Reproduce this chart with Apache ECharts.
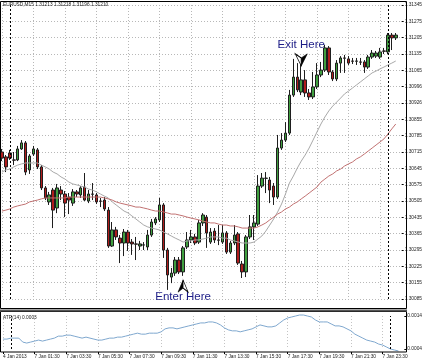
<!DOCTYPE html>
<html><head><meta charset="utf-8">
<script src="https://cdn.jsdelivr.net/npm/echarts@6/dist/echarts.min.js"></script>
<style>html,body{margin:0;padding:0;background:#fff}#c{width:425px;height:361px}</style>
</head><body><div id="c"></div>
<script>
// ---- data ----
const symbolTitle = 'EURUSD,M15 1.31213 1.31218 1.31196 1.31210';
const atrTitle = 'ATR(14) 0.0003';
const categories = ['4 Jan 23:30', '4 Jan 23:45'];
for (let h = 0; h < 24; h++) for (let m = 0; m < 60; m += 15)
  categories.push('7 Jan ' + String(h).padStart(2, '0') + ':' + String(m).padStart(2, '0'));
['00:00', '00:15', '00:30', '00:45'].forEach(t => categories.push('8 Jan ' + t));

// [open, close, low, high]
const candles = [
[1.30715,1.30689,1.30676,1.30728],[1.30694,1.30651,1.30629,1.30702],[1.30711,1.30689,1.30681,1.30724],
[1.30681,1.30680,1.30659,1.30715],[1.30681,1.30728,1.30676,1.30741],[1.30728,1.30754,1.30724,1.30766],
[1.30754,1.30629,1.30616,1.30762],[1.30638,1.30698,1.30621,1.30706],[1.30706,1.30728,1.30698,1.30741],
[1.30724,1.30651,1.30642,1.30732],[1.30651,1.30561,1.30552,1.30659],[1.30561,1.30518,1.30509,1.30569],
[1.30501,1.30531,1.30488,1.30544],[1.30552,1.30466,1.30389,1.30561],[1.30475,1.30561,1.30453,1.30578],
[1.30552,1.30535,1.30509,1.30569],[1.30535,1.30496,1.30436,1.30548],[1.30522,1.30509,1.30449,1.30539],
[1.30496,1.30544,1.30484,1.30556],[1.30544,1.30535,1.30522,1.30552],[1.30531,1.30561,1.30518,1.30569],
[1.30565,1.30509,1.30505,1.30625],[1.30505,1.30535,1.30496,1.30552],[1.30535,1.30534,1.30509,1.30582],
[1.30531,1.30501,1.30492,1.30539],[1.30505,1.30504,1.30479,1.30518],[1.30509,1.30471,1.30462,1.30522],
[1.30466,1.30312,1.30304,1.30479],[1.30312,1.30381,1.30308,1.30415],[1.30381,1.30351,1.30338,1.30394],
[1.30346,1.30325,1.30239,1.30359],[1.30325,1.30372,1.30269,1.30385],[1.30372,1.30325,1.30291,1.30381],
[1.30329,1.30321,1.30274,1.30342],[1.30321,1.30320,1.30252,1.30351],[1.30312,1.30321,1.30295,1.30334],
[1.30316,1.30317,1.30295,1.30329],[1.30308,1.30359,1.30295,1.30381],[1.30359,1.30415,1.30351,1.30428],
[1.30411,1.30428,1.30402,1.30436],[1.30424,1.30488,1.30415,1.30518],[1.30488,1.30295,1.30261,1.30496],
[1.30295,1.30188,1.30124,1.30304],[1.30179,1.30196,1.30153,1.30218],[1.30196,1.30252,1.30184,1.30265],
[1.30252,1.30201,1.30192,1.30265],[1.30201,1.30304,1.30184,1.30312],[1.30308,1.30338,1.30299,1.30372],
[1.30338,1.30351,1.30325,1.30381],[1.30351,1.30325,1.30316,1.30364],[1.30329,1.30411,1.30321,1.30424],
[1.30411,1.30445,1.30398,1.30453],[1.30436,1.30368,1.30304,1.30445],[1.30329,1.30372,1.30321,1.30389],
[1.30376,1.30338,1.30325,1.30389],[1.30338,1.30337,1.30316,1.30402],[1.30329,1.30368,1.30321,1.30402],
[1.30368,1.30286,1.30278,1.30376],[1.30286,1.30325,1.30278,1.30334],[1.30325,1.30359,1.30316,1.30402],
[1.30364,1.30239,1.30231,1.30372],[1.30235,1.30201,1.30175,1.30248],[1.30201,1.30351,1.30179,1.30359],
[1.30351,1.30394,1.30342,1.30445],[1.30394,1.30411,1.30338,1.30445],[1.30406,1.30569,1.30398,1.30616],
[1.30569,1.30603,1.30561,1.30625],[1.30603,1.30602,1.30539,1.30629],[1.30595,1.30552,1.30496,1.30608],
[1.30569,1.30522,1.30488,1.30582],[1.30522,1.30732,1.30514,1.30788],[1.30732,1.30766,1.30724,1.30796],
[1.30766,1.30796,1.30758,1.30843],[1.30796,1.30959,1.30788,1.30981],[1.30959,1.31036,1.30951,1.31114],
[1.31036,1.30981,1.30972,1.31096],[1.30972,1.31024,1.30959,1.31122],[1.31024,1.30968,1.30951,1.31066],
[1.30968,1.30951,1.30938,1.30985],[1.30951,1.30994,1.30942,1.31058],[1.30994,1.31045,1.30985,1.31096],
[1.31045,1.31066,1.31036,1.31101],[1.31066,1.31161,1.31058,1.31174],[1.31161,1.31058,1.31045,1.31169],
[1.31058,1.31028,1.31019,1.31066],[1.31028,1.31096,1.31019,1.31109],[1.31096,1.31118,1.31054,1.31126],
[1.31118,1.31117,1.31054,1.31131],[1.31114,1.31096,1.31088,1.31126],[1.31105,1.31104,1.31092,1.31118],
[1.31104,1.31105,1.31088,1.31118],[1.31101,1.31100,1.31088,1.31118],[1.31101,1.31079,1.31054,1.31109],
[1.31079,1.31122,1.31071,1.31131],[1.31122,1.31139,1.31114,1.31152],[1.31126,1.31139,1.31118,1.31148],
[1.31122,1.31144,1.31114,1.31161],[1.31148,1.31147,1.31135,1.31161],[1.31144,1.31216,1.31135,1.31225],
[1.31216,1.31204,1.31152,1.31225],[1.31204,1.31216,1.31195,1.31225]
];

const maFast = [
1.30629,1.30638,1.30642,1.30651,1.30659,1.30664,1.30668,1.30668,1.30668,1.30668,
1.30659,1.30651,1.30642,1.30629,1.30621,1.30608,1.30599,1.30586,1.30578,1.30574,
1.30569,1.30565,1.30556,1.30552,1.30544,1.30535,1.30526,1.30518,1.30501,1.30488,
1.30475,1.30462,1.30454,1.30441,1.30428,1.30415,1.30402,1.30394,1.30389,1.30385,
1.30381,1.30372,1.30364,1.30355,1.30346,1.30338,1.30329,1.30334,1.30334,1.30338,
1.30338,1.30342,1.30346,1.30351,1.30351,1.30351,1.30346,1.30346,1.30338,1.30334,
1.30329,1.30325,1.30325,1.30325,1.30329,1.30342,1.30355,1.30376,1.30402,1.30428,
1.30458,1.30492,1.30535,1.30582,1.30612,1.30646,1.30676,1.30702,1.30732,1.30766,
1.30801,1.30835,1.30865,1.30891,1.30912,1.30929,1.30946,1.30964,1.30976,1.30989,
1.31002,1.31015,1.31028,1.31041,1.31054,1.31062,1.31071,1.31079,1.31088,1.31096,
1.31105
];
const maSlow = [
1.30462,1.30466,1.30471,1.30479,1.30484,1.30488,1.30492,1.30501,1.30505,1.30509,
1.30514,1.30518,1.30518,1.30518,1.30518,1.30518,1.30518,1.30522,1.30522,1.30522,
1.30522,1.30522,1.30522,1.30522,1.30522,1.30522,1.30518,1.30514,1.30509,1.30501,
1.30496,1.30492,1.30488,1.30484,1.30479,1.30479,1.30475,1.30471,1.30466,1.30462,
1.30462,1.30458,1.30454,1.30449,1.30449,1.30445,1.30441,1.30436,1.30432,1.30428,
1.30424,1.30419,1.30415,1.30411,1.30411,1.30406,1.30402,1.30402,1.30398,1.30398,
1.30394,1.30389,1.30389,1.30389,1.30389,1.30394,1.30402,1.30411,1.30424,1.30436,
1.30449,1.30458,1.30471,1.30479,1.30492,1.30501,1.30514,1.30526,1.30539,1.30552,
1.30565,1.30586,1.30599,1.30612,1.30621,1.30634,1.30642,1.30655,1.30664,1.30672,
1.30685,1.30694,1.30706,1.30719,1.30732,1.30745,1.30758,1.30771,1.30792,1.30814,
1.30835
];
const atr = [
0.00070,0.00070,0.00073,0.00073,0.00073,0.00061,0.00058,0.00061,0.00064,0.00067,
0.00064,0.00067,0.00070,0.00073,0.00079,0.00079,0.00082,0.00082,0.00079,0.00076,
0.00073,0.00076,0.00073,0.00070,0.00067,0.00067,0.00070,0.00073,0.00073,0.00076,
0.00076,0.00079,0.00082,0.00085,0.00088,0.00085,0.00085,0.00088,0.00088,0.00088,
0.00092,0.00101,0.00104,0.00104,0.00101,0.00104,0.00107,0.00110,0.00113,0.00116,
0.00119,0.00119,0.00122,0.00122,0.00119,0.00113,0.00104,0.00098,0.00095,0.00095,
0.00092,0.00095,0.00098,0.00101,0.00107,0.00113,0.00110,0.00107,0.00107,0.00110,
0.00119,0.00128,0.00134,0.00137,0.00140,0.00143,0.00143,0.00140,0.00137,0.00128,
0.00122,0.00122,0.00122,0.00116,0.00110,0.00110,0.00107,0.00101,0.00095,0.00085,
0.00079,0.00073,0.00067,0.00064,0.00061,0.00055,0.00052,0.00046,0.00040,0.00037,
0.00034
];
const priceTicks = ['1.30085','1.30155','1.30225','1.30295','1.30365','1.30435','1.30505','1.30575',
  '1.30645','1.30715','1.30785','1.30855','1.30926','1.30996','1.31065','1.31135','1.31205','1.31275','1.31345'];
const priceMin = 1.30085, priceMax = 1.31345, priceStep = 0.0007;
const timeTicks = ['4 Jan 2013','7 Jan 01:30','7 Jan 03:30','7 Jan 05:30','7 Jan 07:30','7 Jan 09:30',
  '7 Jan 11:30','7 Jan 13:30','7 Jan 15:30','7 Jan 17:30','7 Jan 19:30','7 Jan 21:30','7 Jan 23:30'];
const separators = ['7 Jan 00:00', '8 Jan 00:00'];
const enterPoint = {time: '7 Jan 11:00', arrow: 1.30166, text: 1.30094, label: 'Enter Here'};
const exitPoint = {time: '7 Jan 18:30', arrow: 1.31084, text: 1.31174, label: 'Exit Here'};

// ---- chart ----
const F = 'Liberation Sans, Arial, sans-serif';
const tiny = 4.8;
const chart = echarts.init(document.getElementById('c'), null, {renderer: 'canvas'});
const tickEvery = (i) => i % 8 === 0 && i <= 96;
const sepLine = {
  silent: true, symbol: 'none', animation: false,
  label: {show: false},
  lineStyle: {type: [2, 2], color: '#000', width: 1},
  data: separators.map(s => ({xAxis: s}))
};
const upL = 'path://M6 0 L6 8 L0 12 Z', upR = 'path://M6 0 L12 12 L6 8 Z';
const dnL = 'path://M0 0 L6 4 L6 12 Z', dnR = 'path://M6 4 L12 0 L6 12 Z';
const arrowStyleB = {color: '#000', borderColor: '#000', borderWidth: 0.6};
const arrowStyleW = {color: '#fff', borderColor: '#000', borderWidth: 0.8};
const textLabel = (t) => ({show: true, position: 'inside', formatter: t, color: '#1c1c86',
  fontSize: 11.5, fontFamily: F});

chart.setOption({
  animation: false,
  backgroundColor: '#fff',
  grid: [
    {left: -1, top: 5, width: 407, height: 294},
    {left: -1, top: 316, width: 407, height: 33}
  ],
  xAxis: [
    {type: 'category', gridIndex: 0, data: categories, boundaryGap: true,
     axisLine: {show: false}, axisTick: {show: false}, axisLabel: {show: false},
     splitLine: {show: true, interval: tickEvery, alignWithLabel: true,
       lineStyle: {type: [1, 2], color: '#b8b8b8', width: 1}}},
    {type: 'category', gridIndex: 1, data: categories, boundaryGap: true, offset: 3,
     axisLine: {show: false},
     axisTick: {show: true, interval: tickEvery, alignWithLabel: true, length: 2, lineStyle: {color: '#000'}},
     axisLabel: {show: true, interval: tickEvery, align: 'left', margin: 2, fontSize: tiny,
       fontFamily: F, color: '#222', formatter: (v, i) => timeTicks[i / 8] || ''},
     splitLine: {show: true, interval: tickEvery, alignWithLabel: true,
       lineStyle: {type: [1, 2], color: '#c4c4c4', width: 1}}}
  ],
  yAxis: [
    {type: 'value', gridIndex: 0, position: 'right', min: priceMin, max: priceMax, interval: priceStep,
     axisLine: {show: false}, axisTick: {show: true, length: 2, lineStyle: {color: '#000'}},
     axisLabel: {fontSize: tiny, fontFamily: F, color: '#222', margin: 3,
       formatter: (v) => priceTicks[Math.round((v - priceMin) / priceStep)] || ''},
     splitLine: {show: true, lineStyle: {type: [1, 2], color: '#b8b8b8', width: 1}}},
    {type: 'value', gridIndex: 1, position: 'right', min: 0.0004, max: 0.0014, interval: 0.001,
     axisLine: {show: false}, axisTick: {show: true, length: 2, lineStyle: {color: '#000'}},
     axisLabel: {fontSize: tiny, fontFamily: F, color: '#222', margin: 3, formatter: (v) => v.toFixed(4)},
     splitLine: {show: false}}
  ],
  series: [
    {type: 'candlestick', xAxisIndex: 0, yAxisIndex: 0, data: candles, barWidth: 3, z: 3,
     itemStyle: {color: '#3f9f3f', color0: '#b01c1c', borderColor: '#1e1e1e', borderColor0: '#1e1e1e', borderWidth: 1},
     markLine: sepLine,
     markPoint: {silent: true, animation: false, data: [
       {coord: [enterPoint.time, enterPoint.arrow], symbol: upL, symbolSize: [5, 12], symbolOffset: [-2.5, 6], itemStyle: arrowStyleB, label: {show: false}},
       {coord: [enterPoint.time, enterPoint.arrow], symbol: upR, symbolSize: [5, 12], symbolOffset: [2.5, 6], itemStyle: arrowStyleW, label: {show: false}},
       {coord: [exitPoint.time, exitPoint.arrow], symbol: dnL, symbolSize: [6, 12], symbolOffset: [-3, -6], itemStyle: arrowStyleW, label: {show: false}},
       {coord: [exitPoint.time, exitPoint.arrow], symbol: dnR, symbolSize: [6, 12], symbolOffset: [3, -6], itemStyle: arrowStyleB, label: {show: false}},
       {coord: [enterPoint.time, enterPoint.text], symbol: 'circle', symbolSize: 0, label: textLabel(enterPoint.label)},
       {coord: [exitPoint.time, exitPoint.text], symbol: 'circle', symbolSize: 0, label: textLabel(exitPoint.label)}
     ]}},
    {type: 'line', xAxisIndex: 0, yAxisIndex: 0, data: maFast, symbol: 'none', z: 4,
     lineStyle: {color: '#a9a9a9', width: 1}},
    {type: 'line', xAxisIndex: 0, yAxisIndex: 0, data: maSlow, symbol: 'none', z: 4,
     lineStyle: {color: '#c27272', width: 1}},
    {type: 'line', xAxisIndex: 1, yAxisIndex: 1, data: atr, symbol: 'none', clip: false,
     lineStyle: {color: '#7fa8cf', width: 1}, markLine: sepLine}
  ],
  graphic: [
    {type: 'rect', silent: true, z: 10, shape: {x: 0.5, y: 1.5, width: 406, height: 307},
     style: {fill: 'none', stroke: '#000', lineWidth: 1}},
    {type: 'rect', silent: true, z: 10, shape: {x: 0.5, y: 311.5, width: 406, height: 40.5},
     style: {fill: 'none', stroke: '#000', lineWidth: 1}},
    {type: 'line', silent: true, z: 10, shape: {x1: 0, y1: 310.5, x2: 407, y2: 310.5},
     style: {stroke: '#555', lineWidth: 2}},
    {type: 'text', silent: true, z: 10, left: 3, top: 2,
     style: {text: symbolTitle, font: tiny + 'px ' + F, fill: '#222'}},
    {type: 'text', silent: true, z: 10, left: 3, top: 315,
     style: {text: atrTitle, font: tiny + 'px ' + F, fill: '#222'}}
  ]
});
</script>
</body></html>
